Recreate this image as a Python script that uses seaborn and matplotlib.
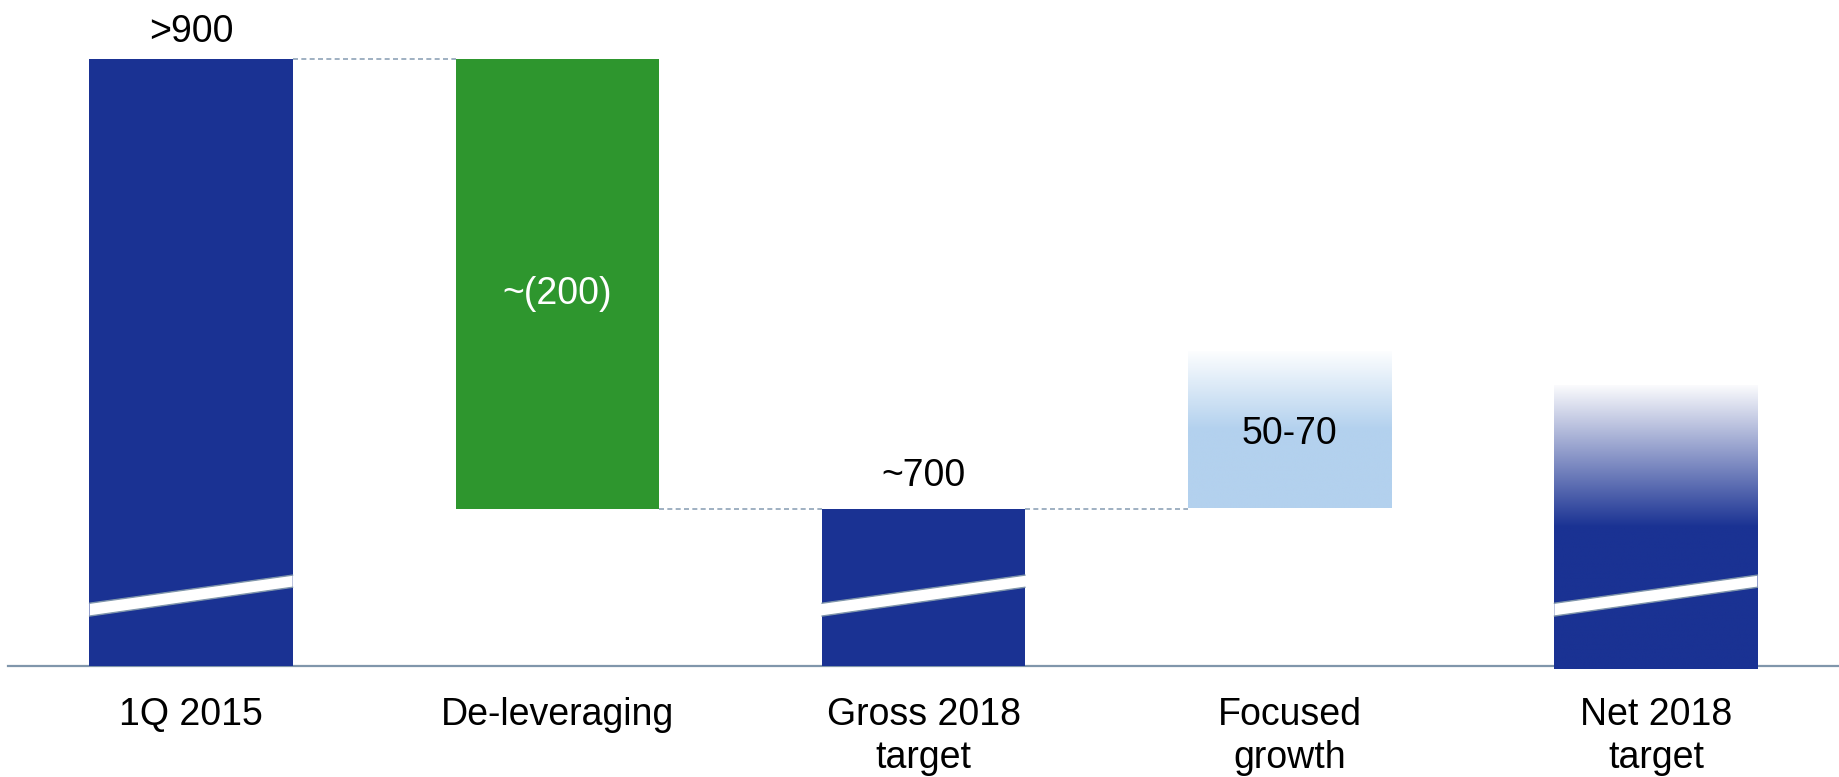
import numpy as np
import pandas as pd
import matplotlib
matplotlib.use('Agg')
import matplotlib.pyplot as plt
import seaborn as sns

# data (axis is broken)
categories = ['1Q 2015', 'De-leveraging', 'Gross 2018\ntarget', 'Focused\ngrowth', 'Net 2018\ntarget']
start_value = 900
deleveraging = -200
gross_value = 700
growth_range = [50, 70]
net_value = 755
value_labels = ['>900', '~(200)', '~700', '50-70']

# broken y axis: the baseline stands for this value
axis_floor = 630
axis_top = 926

navy = '#1a3293'
green = '#2e962e'
light_blue = '#b3d1ee'
grey_line = '#8096ab'
bar_w = 0.555

sns.set_style('white')
plt.rcParams['font.family'] = ['Liberation Sans', 'DejaVu Sans']
plt.rcParams['text.color'] = 'black'

fig = plt.figure(figsize=(18.39, 7.77), dpi=100)
ax = fig.add_axes([8 / 1839, 111 / 777, 1831 / 1839, 666 / 777])

# totals drawn with seaborn
totals = pd.DataFrame({'step': [categories[0], categories[2], categories[4]],
                       'value': [start_value, gross_value, net_value]})
sns.barplot(data=totals, x='step', y='value', order=categories, color=navy,
            saturation=1, width=bar_w, ax=ax, linewidth=0)

# floating bars
gross_from_start = start_value + deleveraging
ax.bar(1, -deleveraging, bottom=gross_from_start, width=bar_w, color=green, linewidth=0)
growth_bar = ax.bar(3, growth_range[1], bottom=gross_value, width=bar_w,
                    color=light_blue, linewidth=0)[0]


def fade_bar(patch, color, fade_from, floor=None):
    x0, y0 = patch.get_x(), patch.get_y()
    x1, y1 = x0 + patch.get_width(), y0 + patch.get_height()
    if floor is not None:
        y0 = max(y0, floor)
    ys = np.linspace(y0, y1, 400)
    t = np.clip((ys - fade_from) / (y1 - fade_from), 0, 1) * 0.98
    rgb = np.array(matplotlib.colors.to_rgb(color))
    img = (1 - t)[:, None] * rgb + t[:, None]
    im = ax.imshow(img[:, None, :], extent=(x0, x1, y0, y1), origin='lower',
                   aspect='auto', interpolation='bilinear', zorder=patch.get_zorder())
    im.set_clip_path(patch)
    patch.set_facecolor('none')


fade_bar(growth_bar, light_blue, 735)
net_bar = [p for p in ax.patches if abs(p.get_x() + p.get_width() / 2 - 4) < 0.01][0]
fade_bar(net_bar, navy, 692, floor=axis_floor - 1.2)

# break marks on the total bars
for xc in [0, 2, 4]:
    xl, xr = xc - bar_w / 2, xc + bar_w / 2
    ax.fill([xl, xr, xr, xl], [652.2, 665.0, 670.4, 657.9], color='white', lw=0, zorder=5)
    ax.plot([xl, xr], [652.2, 665.0], color=grey_line, lw=1, zorder=6)
    ax.plot([xl, xr], [657.9, 670.4], color=grey_line, lw=1, zorder=6)

# dashed connectors
dash = dict(color='#8fa3b8', lw=1.2, linestyle=(0, (3, 2)), zorder=1)
ax.plot([bar_w / 2, 1 - bar_w / 2], [start_value, start_value], **dash)
ax.plot([1 + bar_w / 2, 2 - bar_w / 2], [gross_from_start, gross_from_start], **dash)
ax.plot([2 + bar_w / 2, 3 - bar_w / 2], [gross_value, gross_value], **dash)

# value labels
ax.annotate(value_labels[0], (0, start_value), xytext=(0, 27), textcoords='offset pixels',
            ha='center', va='center', fontsize=27)
ax.annotate(value_labels[1], (1, start_value + deleveraging / 2), xytext=(0, -10),
            textcoords='offset pixels', ha='center', va='center', fontsize=27, color='white')
ax.annotate(value_labels[2], (2, gross_value), xytext=(0, 33), textcoords='offset pixels',
            ha='center', va='center', fontsize=27)
ax.annotate(value_labels[3], (3, gross_value + growth_range[1] / 2), xytext=(0, -4),
            textcoords='offset pixels', ha='center', va='center', fontsize=27)

ax.set_xlim(-0.5, 4.5)
ax.set_ylim(axis_floor, axis_top)
ax.set_yticks([])
ax.set_xlabel('')
ax.set_ylabel('')
ax.set_xticks(range(len(categories)))
ax.set_xticklabels(categories, fontsize=27, linespacing=1.27, color='black')
ax.tick_params(axis='x', length=0, pad=22)
sns.despine(ax=ax, left=True)
ax.spines['bottom'].set_color(grey_line)
ax.spines['bottom'].set_linewidth(1.6)
ax.spines['bottom'].set_zorder(0.5)

fig.savefig('out.png', dpi=100)
